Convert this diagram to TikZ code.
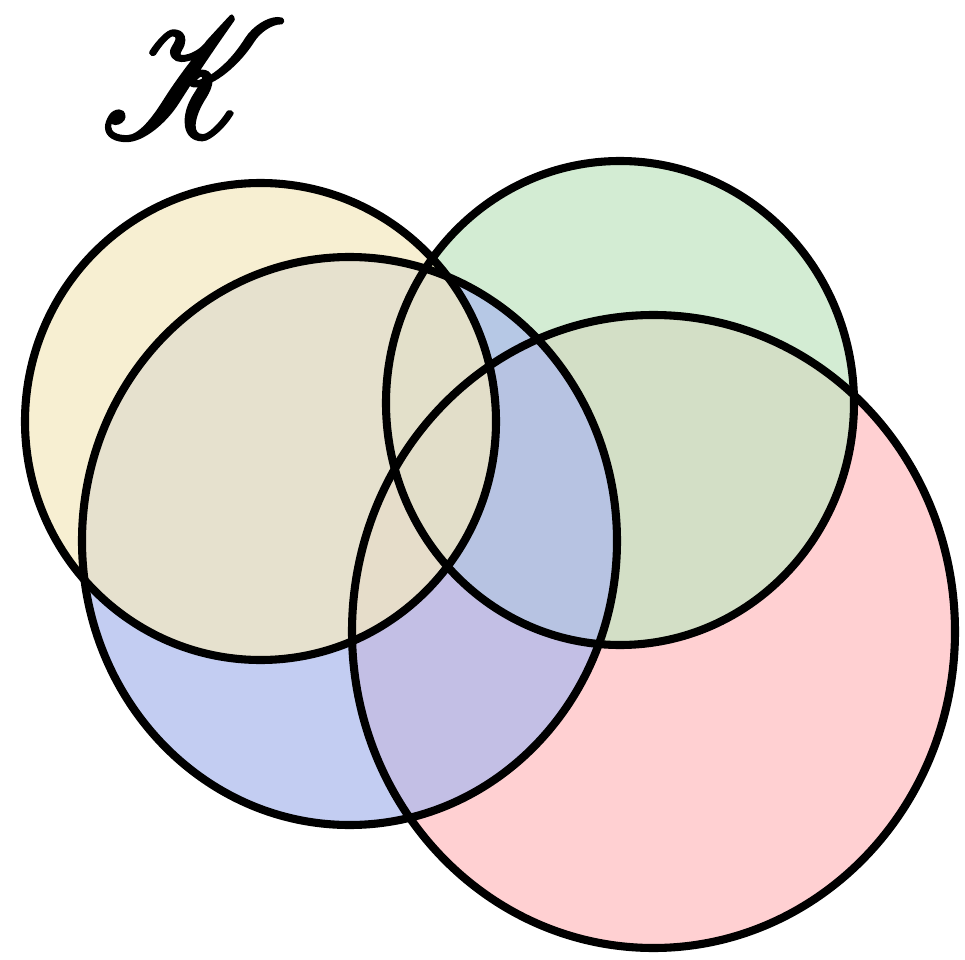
\documentclass[tikz,border=0pt]{standalone}
\usepackage{amsmath,amssymb,mathrsfs}
\usetikzlibrary{positioning}
\definecolor{setyellow}{RGB}{244,233,193}
\definecolor{setblue}{RGB}{172,186,237}
\definecolor{setgreen}{RGB}{194,229,194}
\definecolor{setred}{RGB}{255,190,193}
\newcommand{\heavyglyph}[1]{\special{pdf:literal direct 0 G 2 Tr 0.2 w}#1\special{pdf:literal direct 0 Tr}}

\begin{document}
\begin{tikzpicture}[x=0.02cm, y=-0.02cm,
  setfill/.style={fill opacity=0.72},
  setline/.style={draw=black, line width=4.6pt}]

% Canvas
\useasboundingbox (0,0) rectangle (965,960);

% Label
\node[inner sep=0pt] (klabel) at (194,78)
  {\resizebox{3.7cm}{2.35cm}{\heavyglyph{$\mathscr{K}$}}};

% ========== Fills (bottom to top) ==========
\fill[setred, setfill] (653.5,631.5) ellipse [x radius=301.5, y radius=316.5];
\fill[setgreen, setfill] (620,403) ellipse [x radius=234, y radius=242];
\fill[setblue, setfill] (349.5,541) ellipse [x radius=267.5, y radius=284];
\fill[setyellow, setfill] (260.5,421.5) ellipse [x radius=235.5, y radius=238.5];

% ========== Outlines ==========
\draw[setline] (653.5,631.5) ellipse [x radius=301.5, y radius=316.5];
\draw[setline] (620,403) ellipse [x radius=234, y radius=242];
\draw[setline] (349.5,541) ellipse [x radius=267.5, y radius=284];
\draw[setline] (260.5,421.5) ellipse [x radius=235.5, y radius=238.5];

\end{tikzpicture}
\end{document}
